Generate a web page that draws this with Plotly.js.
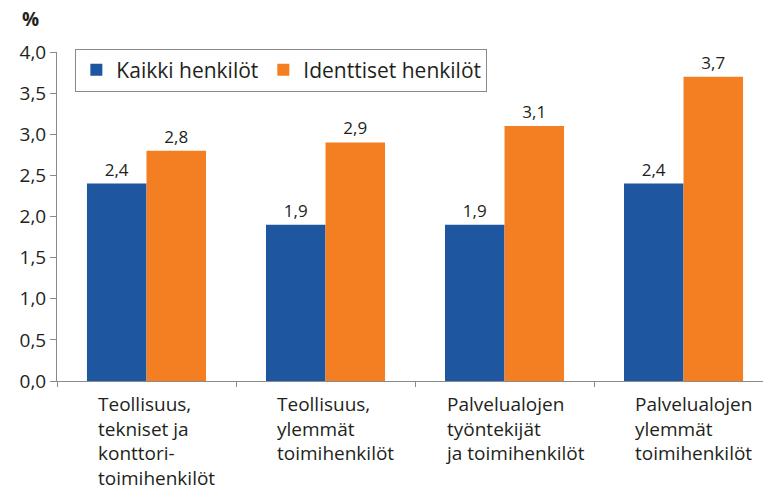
<!DOCTYPE html>
<html>
<head>
<meta charset="utf-8">
<script src="https://cdn.plot.ly/plotly-3.0.1.min.js"></script>
<style>html,body{margin:0;padding:0;background:#fff;}#chart{width:763px;height:490px;}</style>
</head>
<body>
<div id="chart"></div>
<script>
var categories = ["c1", "c2", "c3", "c4"];
var categoryLabels = [
  "Teollisuus,<br>tekniset ja<br>konttori-<br>toimihenkilöt",
  "Teollisuus,<br>ylemmät<br>toimihenkilöt",
  "Palvelualojen<br>työntekijät<br>ja toimihenkilöt",
  "Palvelualojen<br>ylemmät<br>toimihenkilöt"
];
var seriesNames = ["Kaikki henkilöt", "Identtiset henkilöt"];
var kaikki = [2.4, 1.9, 1.9, 2.4];
var identtiset = [2.8, 2.9, 3.1, 3.7];
var yTicks = [0, 0.5, 1, 1.5, 2, 2.5, 3, 3.5, 4];

var FONT = "Open Sans, sans-serif";
var TXT = "#231f20";

var traces = [
  {type: "bar", x: categories, y: kaikki, name: seriesNames[0],
   marker: {color: "#1f56a0"}, texttemplate: "%{y:.1f}", textposition: "outside",
   textfont: {size: 17, color: TXT, family: FONT}, cliponaxis: false, hoverinfo: "none"},
  {type: "bar", x: categories, y: identtiset, name: seriesNames[1],
   marker: {color: "#f47f22"}, texttemplate: "%{y:.1f}", textposition: "outside",
   textfont: {size: 17, color: TXT, family: FONT}, cliponaxis: false, hoverinfo: "none"}
];

var annotations = categories.map(function (c, i) {
  return {x: c, xref: "x", y: 0, yref: "paper", yanchor: "top", yshift: -9, xshift: 10,
    xanchor: "center", align: "left", showarrow: false, text: categoryLabels[i], borderpad: 0,
    font: {size: 19, color: TXT, family: FONT}};
});
annotations.push({x: 0, xref: "paper", xshift: -27, y: 1, yref: "paper", yshift: 33, xanchor: "center",
  yanchor: "middle", showarrow: false, text: "<b>%</b>", font: {size: 19, color: TXT, family: FONT}});

var layout = {
  width: 763, height: 490,
  margin: {l: 57, r: 0, t: 52, b: 109},
  paper_bgcolor: "#fff", plot_bgcolor: "#fff",
  separators: ", ",
  barmode: "group", bargap: 0.335, bargroupgap: 0,
  showlegend: true,
  legend: {orientation: "h", x: 0.026, y: 1.01, xanchor: "left", yanchor: "top",
    bgcolor: "#fff", bordercolor: "#8a8a8a", borderwidth: 1,
    font: {size: 21, color: TXT, family: FONT}, itemclick: false, tracegroupgap: 0},
  xaxis: {type: "category", range: [-0.5, 3.444], showticklabels: false,
    ticks: "outside", tickson: "boundaries", ticklen: 5, tickcolor: "#8a8a8a",
    showline: true, linecolor: "#8a8a8a", linewidth: 1, showgrid: false, zeroline: false, fixedrange: true},
  yaxis: {range: [0, 4], tickvals: yTicks, tickformat: ".1f", ticks: "outside", ticklen: 6,
    tickcolor: "#8a8a8a", showline: true, linecolor: "#8a8a8a", linewidth: 1,
    showgrid: false, zeroline: false, tickfont: {size: 19, color: TXT, family: FONT}, fixedrange: true},
  annotations: annotations,
  font: {family: FONT, color: TXT}
};

Plotly.newPlot("chart", traces, layout, {displayModeBar: false, staticPlot: true});
</script>
</body>
</html>
